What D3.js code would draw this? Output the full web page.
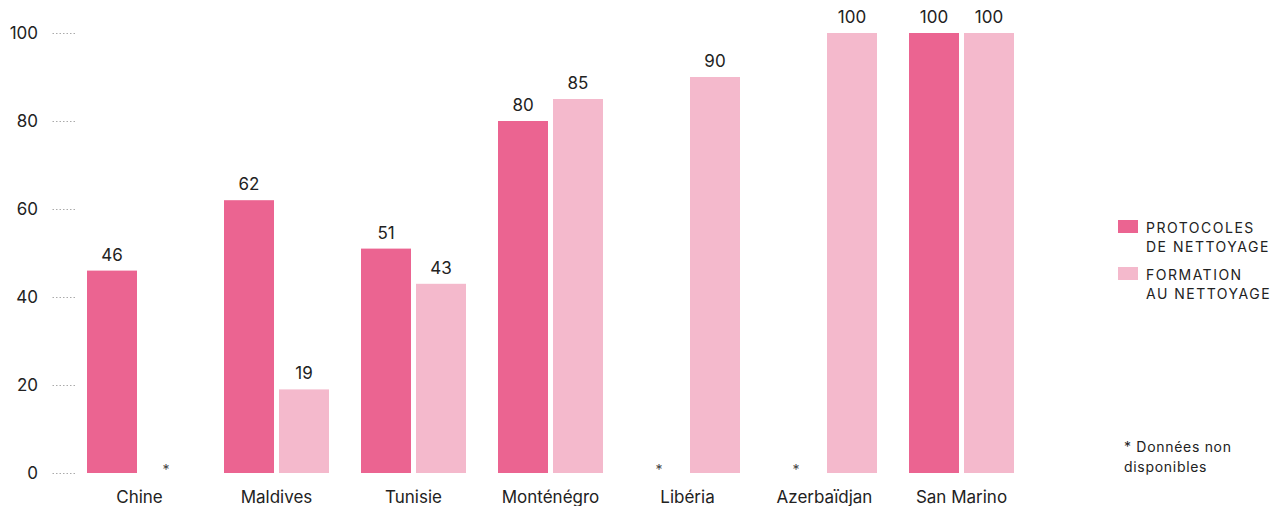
<!DOCTYPE html>
<html>
<head>
<meta charset="utf-8">
<script src="https://cdn.jsdelivr.net/npm/d3@7"></script>
<style>
  html, body { margin: 0; padding: 0; background: #fff; }
  svg { display: block; font-family: Inter, "Noto Sans", sans-serif; }
</style>
</head>
<body>
<svg id="chart" width="1282" height="506"></svg>
<script>
// Countries and the two measured shares (null = no data)
const categories = ["Chine", "Maldives", "Tunisie", "Monténégro", "Libéria", "Azerbaïdjan", "San Marino"];
const protocoles = [46, 62, 51, 80, null, null, 100];
const formation = [null, 19, 43, 85, 90, 100, 100];
const yTicks = [0, 20, 40, 60, 80, 100];
const seriesNames = ["PROTOCOLES\nDE NETTOYAGE", "FORMATION\nAU NETTOYAGE"];
const seriesColors = ["#eb6491", "#f4b9cc"];
const footnote = ["* Données non", "disponibles"];

const svg = d3.select("#chart");

const y = d3.scaleLinear().domain([0, 100]).range([473, 33]);

const x = d3.scaleBand()
  .domain(categories)
  .range([71, 1030])
  .paddingInner(32 / 137)
  .paddingOuter(16 / 137);

const xSub = d3.scaleBand()
  .domain([0, 1])
  .range([0, x.bandwidth()])
  .paddingInner(5 / 55);

// Y axis: labels with short dotted tick marks
const yAxis = svg.append("g").attr("transform", "translate(75,0)")
  .call(d3.axisLeft(y).tickValues(yTicks).tickSize(24).tickPadding(13));
yAxis.select(".domain").remove();
yAxis.selectAll(".tick line")
  .attr("stroke", "#aaa").attr("stroke-width", 1).attr("stroke-dasharray", "1.5,2");
yAxis.selectAll(".tick text")
  .attr("fill", "#222").style("font-size", "17px").style("font-family", "Inter, sans-serif");

// X axis labels
const xAxis = svg.append("g").attr("transform", "translate(0,473)")
  .call(d3.axisBottom(x).tickSize(0).tickPadding(18));
xAxis.select(".domain").remove();
xAxis.selectAll(".tick text")
  .attr("fill", "#222").style("font-size", "17px").style("font-family", "Inter, sans-serif");

// Bars
const rows = categories.map((c, i) => ({ c, vals: [protocoles[i], formation[i]] }));
const groups = svg.append("g").selectAll("g").data(rows).join("g")
  .attr("transform", d => `translate(${x(d.c)},0)`);

groups.selectAll("rect")
  .data(d => d.vals.map((v, k) => ({ v, k })).filter(e => e.v !== null))
  .join("rect")
  .attr("x", e => xSub(e.k))
  .attr("width", xSub.bandwidth())
  .attr("y", e => y(e.v))
  .attr("height", e => y(0) - y(e.v))
  .attr("fill", e => seriesColors[e.k]);

// Value labels
groups.selectAll("text.val")
  .data(d => d.vals.map((v, k) => ({ v, k })).filter(e => e.v !== null))
  .join("text")
  .attr("class", "val")
  .attr("x", e => xSub(e.k) + xSub.bandwidth() / 2)
  .attr("y", e => y(e.v) - 10)
  .attr("text-anchor", "middle")
  .attr("fill", "#222")
  .style("font-size", "17px")
  .text(e => e.v);

// Asterisks for missing values
groups.selectAll("text.na")
  .data(d => d.vals.map((v, k) => ({ v, k })).filter(e => e.v === null))
  .join("text")
  .attr("class", "na")
  .attr("x", e => xSub(e.k) + xSub.bandwidth() / 2 - 1)
  .attr("y", y(0) + 2)
  .attr("text-anchor", "middle")
  .attr("fill", "#444")
  .style("font-size", "14px")
  .text("*");

// Legend
const legend = svg.append("g").attr("transform", "translate(1118,220)");
seriesNames.forEach((name, i) => {
  const g = legend.append("g").attr("transform", `translate(0,${i * 47})`);
  g.append("rect").attr("width", 20).attr("height", 13).attr("fill", seriesColors[i]);
  name.split("\n").forEach((line, j) => {
    g.append("text")
      .attr("x", 28).attr("y", 13 + j * 19)
      .attr("fill", "#222")
      .style("font-size", "14px")
      .style("letter-spacing", "1.5px")
      .text(line);
  });
});

// Footnote
footnote.forEach((line, j) => {
  svg.append("text")
    .attr("x", 1124).attr("y", 452 + j * 20)
    .attr("fill", "#222")
    .style("font-size", "14px")
    .style("letter-spacing", "0.7px")
    .text(line);
});
</script>
</body>
</html>
